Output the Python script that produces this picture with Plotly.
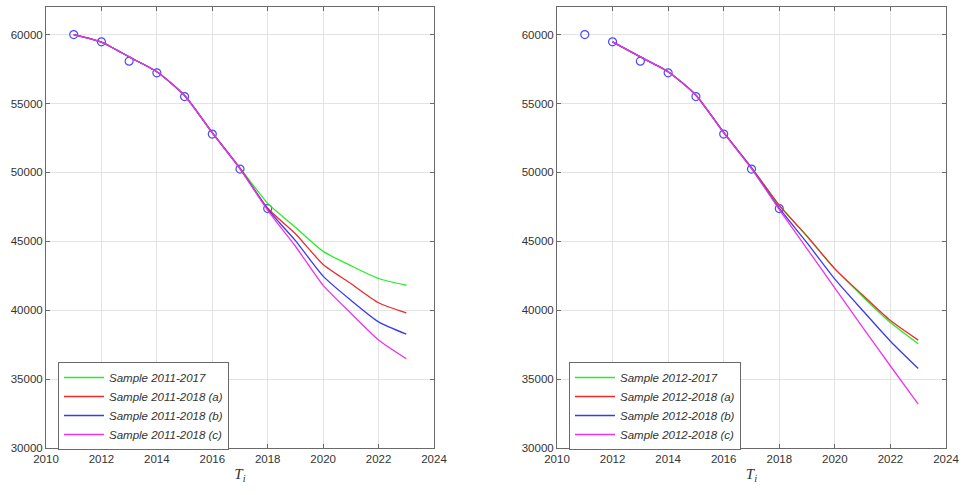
import plotly.graph_objects as go

# ---- data ----
obs_years = [2011, 2012, 2013, 2014, 2015, 2016, 2017, 2018]
obs_values = [60000, 59470, 58070, 57220, 55500, 52780, 50240, 47370]

years_left = list(range(2011, 2024))
left_green = [60000, 59450, 58380, 57300, 55580, 52900, 50330, 47750, 46020, 44270, 43230, 42300, 41810]
left_red = [60000, 59450, 58380, 57300, 55580, 52880, 50300, 47400, 45550, 43320, 41930, 40540, 39800]
left_blue = [60000, 59450, 58380, 57300, 55580, 52870, 50280, 47330, 45050, 42470, 40720, 39150, 38260]
left_magenta = [60000, 59450, 58380, 57300, 55580, 52860, 50260, 47250, 44640, 41800, 39780, 37840, 36480]

years_right = list(range(2012, 2024))
right_green = [59470, 58380, 57300, 55600, 52900, 50350, 47620, 45350, 43000, 41000, 39100, 37560]
right_red = [59470, 58380, 57300, 55600, 52900, 50350, 47600, 45370, 43000, 41100, 39250, 37830]
right_blue = [59470, 58380, 57300, 55600, 52880, 50300, 47400, 44880, 42250, 39980, 37750, 35770]
right_magenta = [59470, 58380, 57300, 55600, 52870, 50280, 47300, 44450, 41600, 38760, 35950, 33190]

names_left = ["Sample 2011-2017", "Sample 2011-2018 (a)", "Sample 2011-2018 (b)", "Sample 2011-2018 (c)"]
names_right = ["Sample 2012-2017", "Sample 2012-2018 (a)", "Sample 2012-2018 (b)", "Sample 2012-2018 (c)"]
colors = ["#22ee22", "#ee2a2a", "#3a3aee", "#ee33ee"]

x_ticks = [2010, 2012, 2014, 2016, 2018, 2020, 2022, 2024]
y_ticks = [30000, 35000, 40000, 45000, 50000, 55000, 60000]

fig = go.Figure()

def add_panel(xa, ya, years, series, names, legend):
    fig.add_trace(go.Scatter(x=obs_years, y=obs_values, mode="markers",
                             marker=dict(symbol="circle-open", size=8, color="#4a4aff", line=dict(width=1.2)),
                             showlegend=False, xaxis=xa, yaxis=ya, hoverinfo="skip"))
    for vals, nm, col in zip(series, names, colors):
        fig.add_trace(go.Scatter(x=years, y=vals, mode="lines", name=nm,
                                 line=dict(color=col, width=1.3, shape="spline", smoothing=0.6),
                                 xaxis=xa, yaxis=ya, legend=legend))

add_panel("x", "y", years_left, [left_green, left_red, left_blue, left_magenta], names_left, "legend")
add_panel("x2", "y2", years_right, [right_green, right_red, right_blue, right_magenta], names_right, "legend2")

W, H = 963, 495
def px(v): return v / W
def py(v): return 1 - v / H

axis_common = dict(showline=True, linecolor="#6a6a6a", linewidth=1, mirror="ticks",
                   ticks="inside", ticklen=4, tickcolor="#6a6a6a",
                   showgrid=True, gridcolor="#e3e3e3", gridwidth=1, zeroline=False,
                   tickfont=dict(family="Liberation Sans, Arial, sans-serif", size=11.5, color="#333333"),
                   automargin=False)

xlab = dict(text="<i>T</i><sub><i>i</i></sub>", font=dict(family="Liberation Serif, Times New Roman, serif", size=15, color="#333333"), standoff=4)

legend_font = dict(family="Liberation Sans, Arial, sans-serif", size=11.5, color="#333333", style="italic")

fig.update_layout(
    width=W, height=H,
    margin=dict(l=0, r=0, t=0, b=0, autoexpand=False),
    paper_bgcolor="white", plot_bgcolor="white",
    xaxis=dict(domain=[px(46), px(434)], range=[2010, 2024], tickvals=x_ticks, anchor="y", title=xlab, **axis_common),
    yaxis=dict(domain=[py(448), py(7)], range=[30000, 62000], tickvals=y_ticks, tickformat="d", anchor="x", **axis_common),
    xaxis2=dict(domain=[px(557), px(946)], range=[2010, 2024], tickvals=x_ticks, anchor="y2", title=xlab, **axis_common),
    yaxis2=dict(domain=[py(448), py(7)], range=[30000, 62000], tickvals=y_ticks, tickformat="d", anchor="x2", **axis_common),
    legend=dict(x=px(58), y=py(362), xanchor="left", yanchor="top", bgcolor="white",
                bordercolor="#6a6a6a", borderwidth=1, itemwidth=40, font=legend_font),
    legend2=dict(x=px(569), y=py(362), xanchor="left", yanchor="top", bgcolor="white",
                 bordercolor="#6a6a6a", borderwidth=1, itemwidth=40, font=legend_font),
)

fig.write_html("out.html", config={"displayModeBar": False},
               post_script="document.body.style.margin='0px';")
